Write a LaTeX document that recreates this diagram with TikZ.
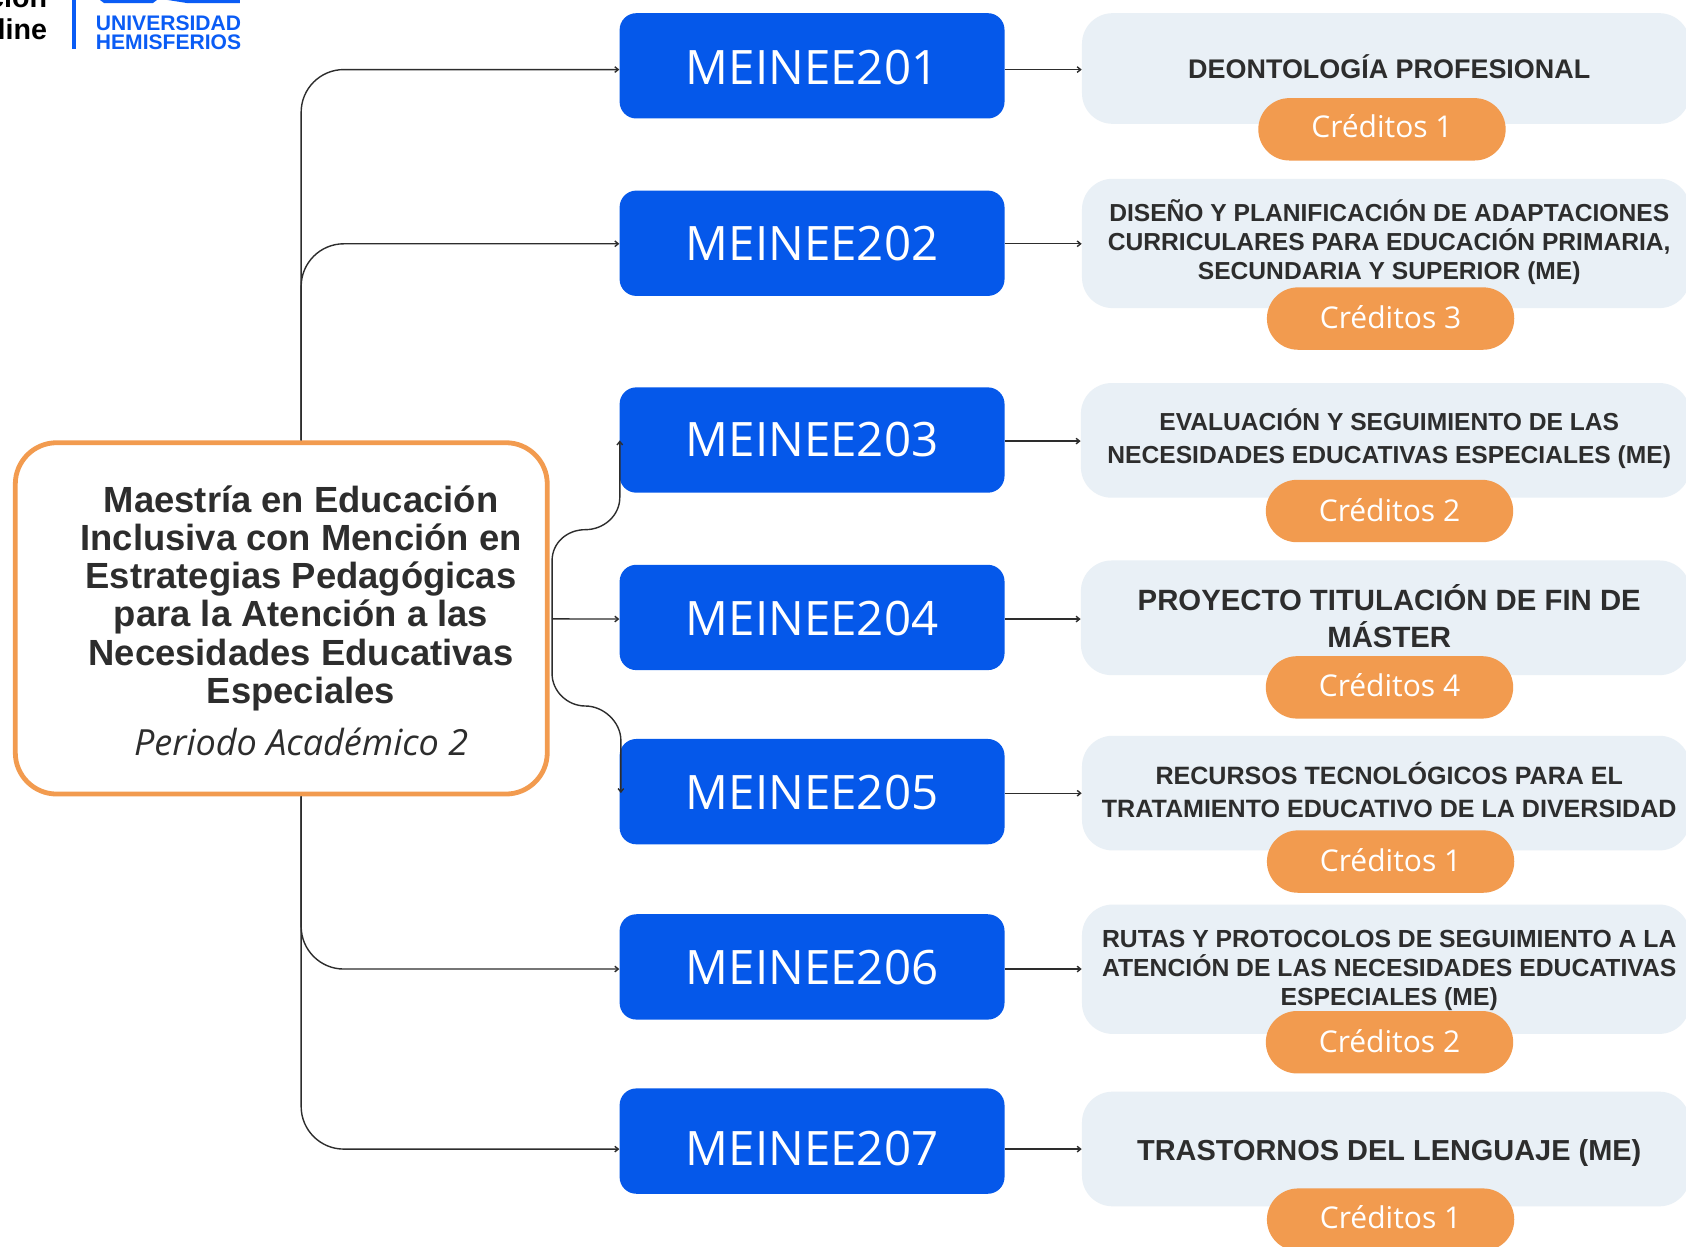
\documentclass[tikz,border=0pt]{standalone}
\usepackage{fontspec}
\setmainfont{Open Sans}
\newfontfamily\hbold[Scale=1.0]{Liberation Sans}
\usetikzlibrary{arrows.meta}
\definecolor{hblue}{HTML}{0558EA}
\definecolor{logoblue}{HTML}{0A5CF5}
\definecolor{horange}{HTML}{F29B4F}
\definecolor{hlight}{HTML}{E9F0F6}
\definecolor{hdark}{HTML}{2D2D2D}
\newcommand{\shifted}[2]{\smash{\raisebox{#1}{#2}}}
\tikzset{
  x=0.8065pt,y=-0.8065pt,
  code/.style={fill=hblue,rounded corners=12.5pt,inner sep=0,minimum width=288.7pt,minimum height=79pt,text=white,font=\fontsize{35.6}{40}\selectfont},
  desc/.style={fill=hlight,rounded corners=23pt,inner sep=0,anchor=north west},
  dtext/.style={align=center,text=hdark,inner sep=0},
  pill/.style={fill=horange,rounded corners=23.3pt,inner sep=0,minimum width=185.5pt,minimum height=46.8pt,text=white,font=\fontsize{22.5}{26}\selectfont},
  conn/.style={draw=hdark,line width=1.05pt,-{Straight Barb[length=2.6pt,width=4.2pt]}},
}
\begin{document}
\begin{tikzpicture}
\clip (0,0) rectangle (1568,1159.7);
\fill[white] (0,0) rectangle (1568,1159.7);
% logo
\fill[logoblue] (67,0) rectangle (71,46);
\node[anchor=east,inner sep=0,font=\hbold\bfseries\fontsize{21.5}{24}\selectfont,text=black] (lg1) at (44,-3) {ción};
\node[anchor=east,inner sep=0,font=\hbold\bfseries\fontsize{21.5}{24}\selectfont,text=black] (lg2) at (44,27) {line};
\node[anchor=west,inner sep=0,font=\hbold\bfseries\fontsize{15.8}{17}\selectfont,text=logoblue] (lg3) at (89,22) {UNIVERSIDAD};
\node[anchor=west,inner sep=0,font=\hbold\bfseries\fontsize{15.8}{17}\selectfont,text=logoblue] (lg4) at (89,39) {HEMISFERIOS};
\fill[logoblue] (93,0) -- (146,0) -- (142,3) -- (97,3) -- cycle;
\fill[logoblue] (156,0) -- (223,0) -- (223,3) -- (175,3) -- cycle;
% main
\node[draw=horange,line width=3.6pt,fill=white,rounded corners=31pt,inner sep=0,anchor=north west,minimum width=399pt,minimum height=263.5pt] (main) at (12,409.5) {};
\node[dtext,font=\hbold\bfseries\fontsize{27.3}{28.55}\selectfont] (title) at (280,556.5) {Maestría en Educación\\Inclusiva con Mención en\\Estrategias Pedagógicas\\para la Atención a las\\Necesidades Educativas\\Especiales};
\node[inner sep=0,text=hdark,font=\itshape\fontsize{27}{30}\selectfont] (period) at (280,690) {Periodo Académico 2};
% code boxes
\node[code,anchor=north west] (m1) at (576,12) {\shifted{-14.3pt}{MEINEE201}};
\node[code,anchor=north west] (m2) at (576,177) {\shifted{-12.7pt}{MEINEE202}};
\node[code,anchor=north west] (m3) at (576,360) {\shifted{-12.7pt}{MEINEE203}};
\node[code,anchor=north west] (m4) at (576,525) {\shifted{-13.5pt}{MEINEE204}};
\node[code,anchor=north west] (m5) at (576,687) {\shifted{-13.5pt}{MEINEE205}};
\node[code,anchor=north west] (m6) at (576,850) {\shifted{-13.5pt}{MEINEE206}};
\node[code,anchor=north west] (m7) at (576,1012) {\shifted{-18.3pt}{MEINEE207}};
% desc boxes
\node[desc,minimum width=456pt,minimum height=83pt] (d1) at (1006,12) {};
\node[desc,minimum width=456pt,minimum height=97pt] (d2) at (1006,166) {};
\node[desc,minimum width=457pt,minimum height=86pt] (d3) at (1005,356) {};
\node[desc,minimum width=457pt,minimum height=86pt] (d4) at (1005,521) {};
\node[desc,minimum width=456pt,minimum height=86pt] (d5) at (1006,684) {};
\node[desc,minimum width=456pt,minimum height=97pt] (d6) at (1006,841) {};
\node[desc,minimum width=456pt,minimum height=86pt] (d7) at (1006,1015) {};
% desc text
\node[dtext,font=\hbold\bfseries\fontsize{20.2}{22}\selectfont] (t1) at (1292,62) {DEONTOLOGÍA PROFESIONAL};
\node[dtext,font=\hbold\bfseries\fontsize{18.45}{21.8}\selectfont] (t2) at (1292,225) {DISEÑO Y PLANIFICACIÓN DE ADAPTACIONES\\CURRICULARES PARA EDUCACIÓN PRIMARIA,\\SECUNDARIA Y SUPERIOR (ME)};
\node[dtext,font=\hbold\bfseries\fontsize{18.45}{25.4}\selectfont] (t3) at (1292,408) {EVALUACIÓN Y SEGUIMIENTO DE LAS\\NECESIDADES EDUCATIVAS ESPECIALES (ME)};
\node[dtext,font=\hbold\bfseries\fontsize{22}{28.4}\selectfont] (t4) at (1292,573) {PROYECTO TITULACIÓN DE FIN DE\\MÁSTER};
\node[dtext,font=\hbold\bfseries\fontsize{18.8}{25}\selectfont] (t5) at (1292,734.5) {RECURSOS TECNOLÓGICOS PARA EL\\TRATAMIENTO EDUCATIVO DE LA DIVERSIDAD};
\node[dtext,font=\hbold\bfseries\fontsize{18.55}{21.5}\selectfont] (t6) at (1292,902.5) {RUTAS Y PROTOCOLOS DE SEGUIMIENTO A LA\\ATENCIÓN DE LAS NECESIDADES EDUCATIVAS\\ESPECIALES (ME)};
\node[dtext,font=\hbold\bfseries\fontsize{21.7}{25}\selectfont] (t7) at (1292,1072) {TRASTORNOS DEL LENGUAJE (ME)};
% pills
\node[pill,anchor=north west] (p1) at (1170,91) {\shifted{-6.1pt}{Créditos 1}};
\node[pill,anchor=north west] (p2) at (1178,267) {\shifted{-7.7pt}{Créditos 3}};
\node[pill,anchor=north west] (p3) at (1177,446) {\shifted{-7.7pt}{Créditos 2}};
\node[pill,anchor=north west] (p4) at (1177,610) {\shifted{-6.9pt}{Créditos 4}};
\node[pill,anchor=north west] (p5) at (1178,772) {\shifted{-7.7pt}{Créditos 1}};
\node[pill,anchor=north west] (p6) at (1177,940) {\shifted{-7.7pt}{Créditos 2}};
\node[pill,anchor=north west] (p7) at (1178,1105) {\shifted{-6.9pt}{Créditos 1}};
% connectors, right side
\foreach \k/\o in {1/-2.8,2/-0.4,3/-0.8,4/-1.2,5/-1.2,6/-1.6,7/-6.0}{
  \draw[conn] ([yshift=\o pt]m\k.east) -- ([yshift=\o pt]m\k.east -| d\k.west);
}
% connectors, left side: top and bottom trunks
\draw[conn,rounded corners=32pt] ([xshift=14.9pt]main.north) |- ([yshift=-2.8pt]m1.west);
\draw[conn,rounded corners=32pt] ([xshift=14.9pt]main.north) |- ([yshift=-0.4pt]m2.west);
\draw[conn,rounded corners=32pt] ([xshift=14.9pt]main.south) |- ([yshift=-1.6pt]m6.west);
\draw[conn,rounded corners=32pt] ([xshift=14.9pt]main.south) |- ([yshift=-6.0pt]m7.west);
% connectors, right of main
\coordinate (trunk) at ([xshift=1.8pt,yshift=-0.4pt]main.east);
\draw[conn] (trunk) -- ([yshift=-1.2pt]m4.west);
\draw[conn] (trunk) -- ++(0,-54) .. controls +(0,-17) and +(-17,0) .. ++(31,-29) .. controls +(17,0) and +(0,17) .. ++(32,-30) -- ++(0,-53);
\draw[conn] (trunk) -- ++(0,51) .. controls +(0,16) and +(-17,0) .. ++(31,30) .. controls +(17,0) and +(0,-17) .. ++(33,32) -- ++(0,49);
\end{tikzpicture}
\end{document}
